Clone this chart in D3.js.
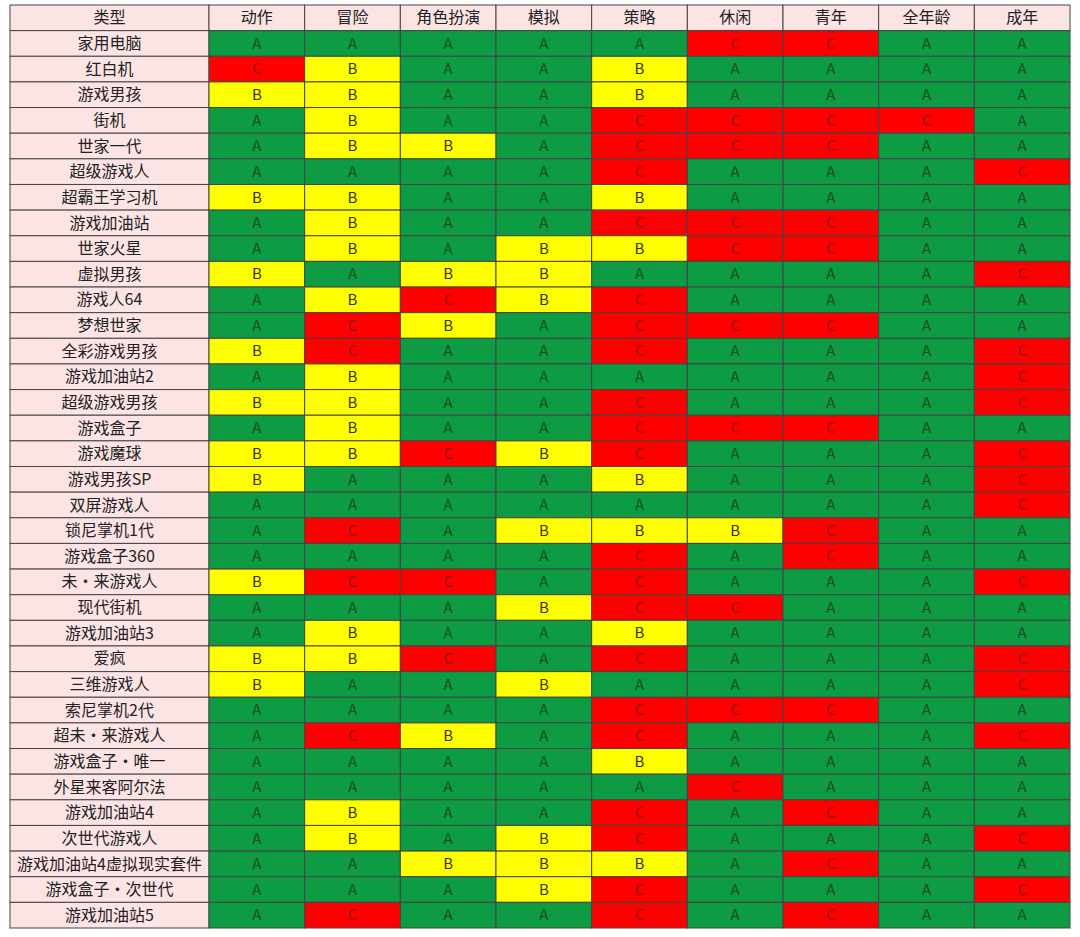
<!DOCTYPE html><html><head><meta charset="utf-8"><script src="https://cdn.jsdelivr.net/npm/d3@7"></script>
<style>body{margin:0;background:#fff}</style></head><body><svg id="c" width="1080" height="937"></svg><script>
const headerLabel="类型";
const genres=["动作","冒险","角色扮演","模拟","策略","休闲","青年","全年龄","成年"];
const consoles=["家用电脑","红白机","游戏男孩","街机","世家一代","超级游戏人","超霸王学习机","游戏加油站","世家火星","虚拟男孩","游戏人64","梦想世家","全彩游戏男孩","游戏加油站2","超级游戏男孩","游戏盒子","游戏魔球","游戏男孩SP","双屏游戏人","锁尼掌机1代","游戏盒子360","未·来游戏人","现代街机","游戏加油站3","爱疯","三维游戏人","索尼掌机2代","超未·来游戏人","游戏盒子·唯一","外星来客阿尔法","游戏加油站4","次世代游戏人","游戏加油站4虚拟现实套件","游戏盒子·次世代","游戏加油站5"];
const grades=["AAAAACCAA","CBAABAAAA","BBAABAAAA","ABAACCCCA","ABBACCCAA","AAAACAAAC","BBAABAAAA","ABAACCCAA","ABABBCCAA","BABBAAAAC","ABCBCAAAA","ACBACCCAA","BCAACAAAC","ABAAAAAAC","BBAACAAAC","ABAACCCAA","BBCBCAAAC","BAAABAAAC","AAAAAAAAC","ACABBBCAA","AAAACACAA","BCCACAAAC","AAABCCAAA","ABAABAAAA","BBCACAAAC","BAABAAAAC","AAAACCCAA","ACBACAAAC","AAAABAAAA","AAAAACAAA","ABAACACAA","ABABCAAAC","AABBBACAA","AAABCAAAC","ACAACACAA"];
const fill={A:"#0d9b43",B:"#ffff00",C:"#ff0000"};
const txt={A:"#1b4d2a",B:"#333300",C:"#8b1a1a"};
const svg=d3.select("#c");
const x0=10,x1=209,x2=1070,y0=5,y1=928;
const x=d3.scaleBand().domain(genres).range([x1,x2]);
const rows=[headerLabel,...consoles];
const y=d3.scaleBand().domain(d3.range(rows.length)).range([y0,y1]);
const font="'Noto Sans CJK SC','Noto Sans',sans-serif";
const g=svg.append("g");
rows.forEach((r,i)=>{
  g.append("rect").attr("x",x0).attr("y",y(i)).attr("width",x1-x0).attr("height",y.bandwidth()).attr("fill","#fce4e4").attr("stroke","#444").attr("stroke-width",1);
  g.append("text").attr("x",(x0+x1)/2).attr("y",y(i)+y.bandwidth()/2).attr("dy","0.35em").attr("text-anchor","middle").attr("font-family",font).attr("font-size",16).attr("fill","#222").text(r);
});
genres.forEach(gn=>{
  g.append("rect").attr("x",x(gn)).attr("y",y(0)).attr("width",x.bandwidth()).attr("height",y.bandwidth()).attr("fill","#fce4e4").attr("stroke","#444");
  g.append("text").attr("x",x(gn)+x.bandwidth()/2).attr("y",y(0)+y.bandwidth()/2).attr("dy","0.35em").attr("text-anchor","middle").attr("font-family",font).attr("font-size",16).attr("fill","#222").text(gn);
});
grades.forEach((s,i)=>{
  genres.forEach((gn,j)=>{
    const v=s[j];
    g.append("rect").attr("x",x(gn)).attr("y",y(i+1)).attr("width",x.bandwidth()).attr("height",y.bandwidth()).attr("fill",fill[v]).attr("stroke","#444");
    g.append("text").attr("x",x(gn)+x.bandwidth()/2).attr("y",y(i+1)+y.bandwidth()/2).attr("dy","0.35em").attr("text-anchor","middle").attr("font-family",font).attr("font-size",15).attr("fill",txt[v]).text(v);
  });
});
</script></body></html>
